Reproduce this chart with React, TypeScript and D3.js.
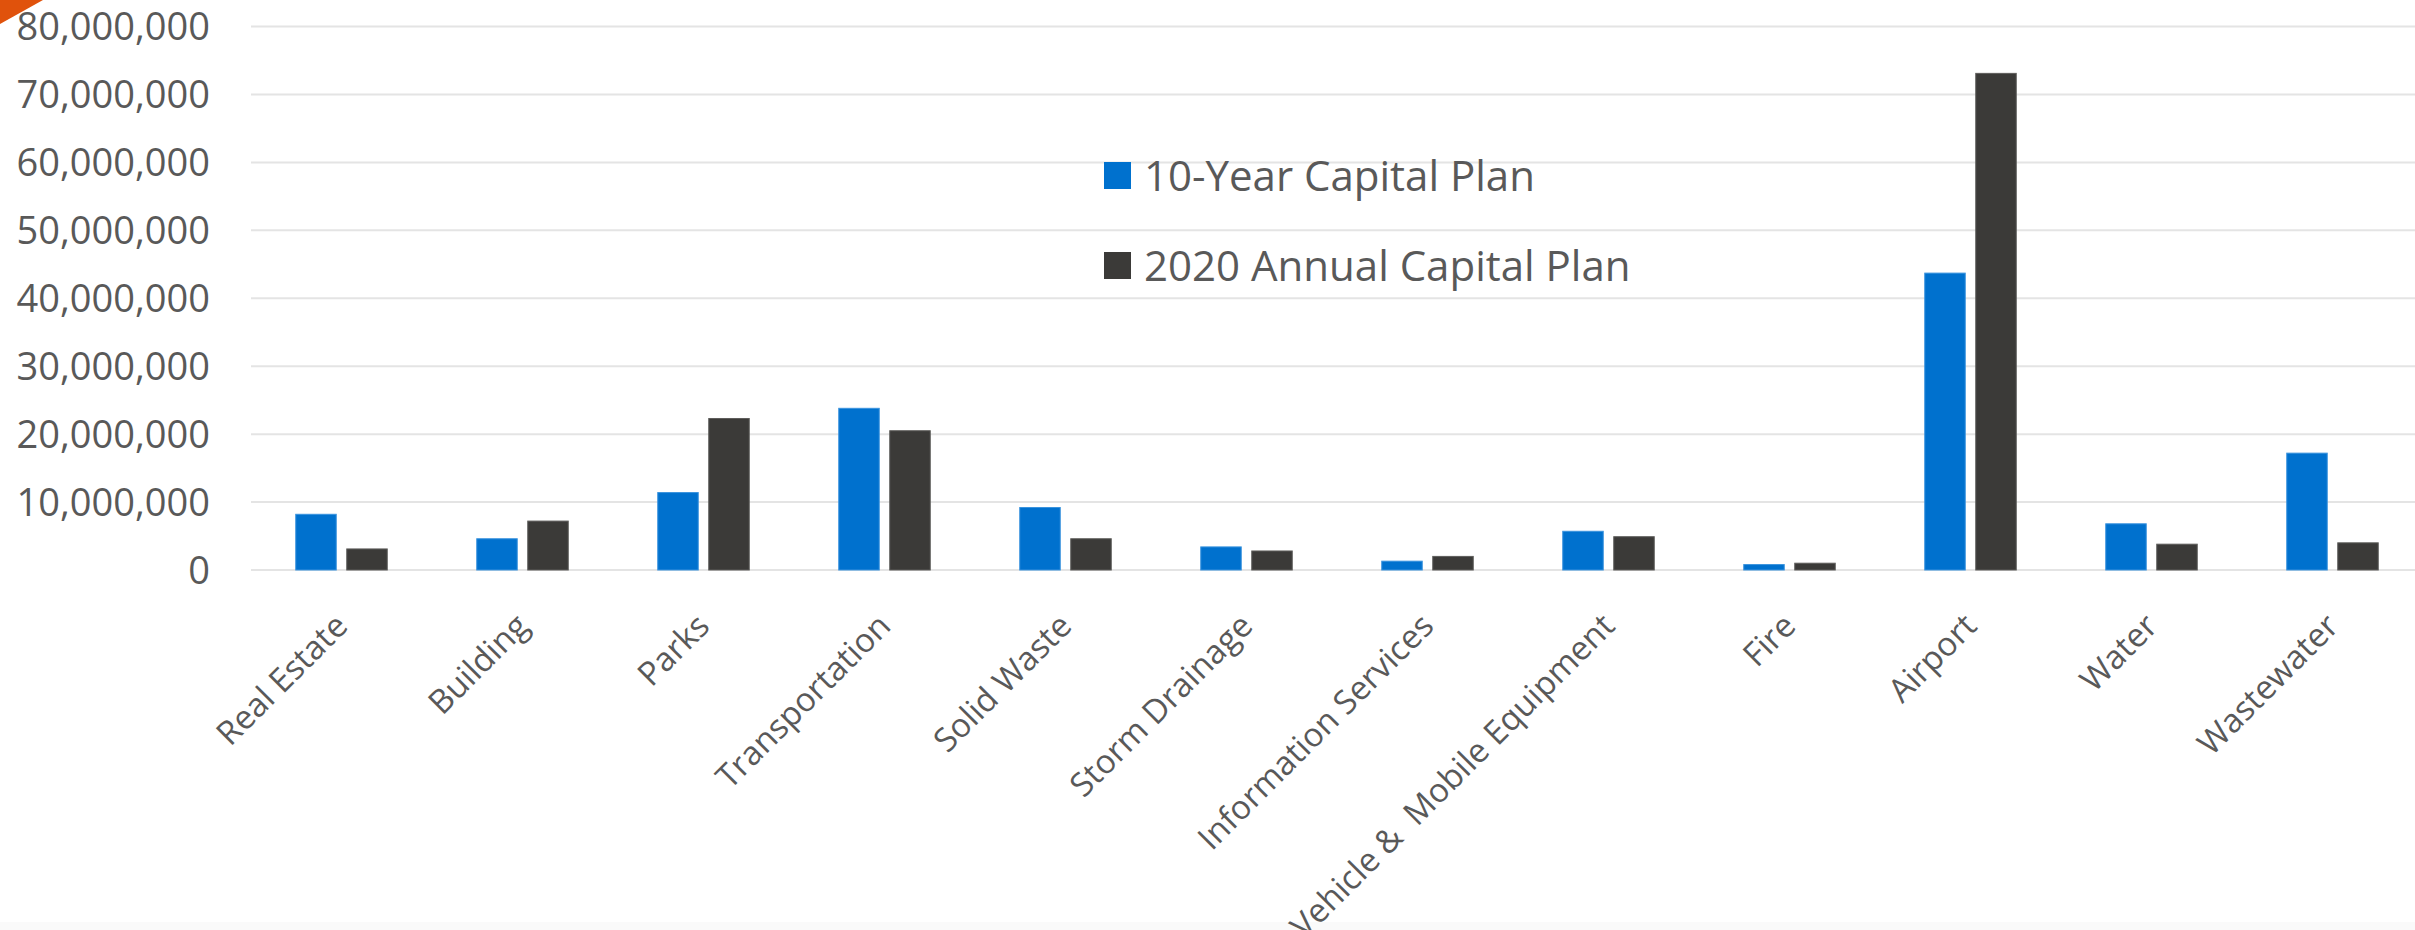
import React from 'react';
import * as d3 from 'd3';

const categories = [
  'Real Estate',
  'Building',
  'Parks',
  'Transportation',
  'Solid Waste',
  'Storm Drainage',
  'Information Services',
  'Vehicle &  Mobile Equipment',
  'Fire',
  'Airport',
  'Water',
  'Wastewater',
];

const seriesNames = ['10-Year Capital Plan', '2020 Annual Capital Plan'];

const tenYearPlan = [
  8200000, 4600000, 11400000, 23800000, 9200000, 3400000,
  1300000, 5700000, 800000, 43700000, 6800000, 17200000,
];

const annualPlan2020 = [
  3100000, 7200000, 22300000, 20500000, 4600000, 2800000,
  2000000, 4900000, 1000000, 73100000, 3800000, 4000000,
];

const yTicks = [0, 10000000, 20000000, 30000000, 40000000, 50000000, 60000000, 70000000, 80000000];

const WIDTH = 2415;
const HEIGHT = 930;
const FONT = '"Open Sans", "Noto Sans", sans-serif';
const TEXT = '#595959';
const colors = ['#0071CE', '#3B3A38'];
const strokes = ['#3A93DE', '#5E5D5B'];

const App: React.FC = () => {
  const plotLeft = 251;
  const step = 181;
  const x0 = d3.scaleBand<string>()
    .domain(categories)
    .range([plotLeft, plotLeft + step * categories.length])
    .padding(0);

  const groupW = 91.5;
  const x1 = d3.scaleBand<string>()
    .domain(seriesNames)
    .range([(step - groupW) / 2, (step + groupW) / 2])
    .paddingInner(0.206)
    .paddingOuter(0);

  const y = d3.scaleLinear().domain([0, 80000000]).range([570, 26.5]);
  const fmt = d3.format(',');

  const values = [tenYearPlan, annualPlan2020];

  return (
    <svg
      width={WIDTH}
      height={HEIGHT}
      style={{ position: 'absolute', left: 0, top: 0, background: '#fff' }}
      fontFamily={FONT}
    >
      <rect x={0} y={0} width={WIDTH} height={HEIGHT} fill="#fff" />
      <rect x={0} y={922} width={WIDTH} height={8} fill="#fafafa" />

      {/* gridlines */}
      {yTicks.map((t) => (
        <line
          key={t}
          x1={plotLeft}
          x2={x0.range()[1]}
          y1={y(t)}
          y2={y(t)}
          stroke="#e4e4e4"
          strokeWidth={2}
        />
      ))}

      {/* y labels */}
      {yTicks.map((t) => (
        <text
          key={'l' + t}
          x={210}
          y={y(t)}
          dy="0.36em"
          textAnchor="end"
          fontSize={38}
          fill={TEXT}
        >
          {fmt(t)}
        </text>
      ))}

      {/* bars */}
      {categories.map((c, i) => (
        <g key={c} transform={`translate(${x0(c)},0)`}>
          {seriesNames.map((s, k) => (
            <rect
              key={s}
              x={x1(s)!}
              y={y(values[k][i])}
              width={x1.bandwidth()}
              height={y(0) - y(values[k][i])}
              fill={colors[k]}
              stroke={strokes[k]}
              strokeWidth={1}
            />
          ))}
        </g>
      ))}

      {/* x labels */}
      {categories.map((c) => (
        <text
          key={'x' + c}
          transform={`translate(${x0(c)! + step / 2 + 8},${628}) rotate(-45)`}
          textAnchor="end"
          fontSize={33}
          fill={TEXT}
          style={{ whiteSpace: 'pre' }}
        >
          {c}
        </text>
      ))}

      {/* legend */}
      {seriesNames.map((s, k) => (
        <g key={'lg' + s} transform={`translate(1104,${162 + k * 90})`}>
          <rect width={27} height={27} fill={colors[k]} />
          <text x={40} y={29} fontSize={42} fill={TEXT}>
            {s}
          </text>
        </g>
      ))}

      {/* corner marker */}
      <polygon points="0,0 43,0 0,24" fill="#E0520C" />
    </svg>
  );
};

export default App;
